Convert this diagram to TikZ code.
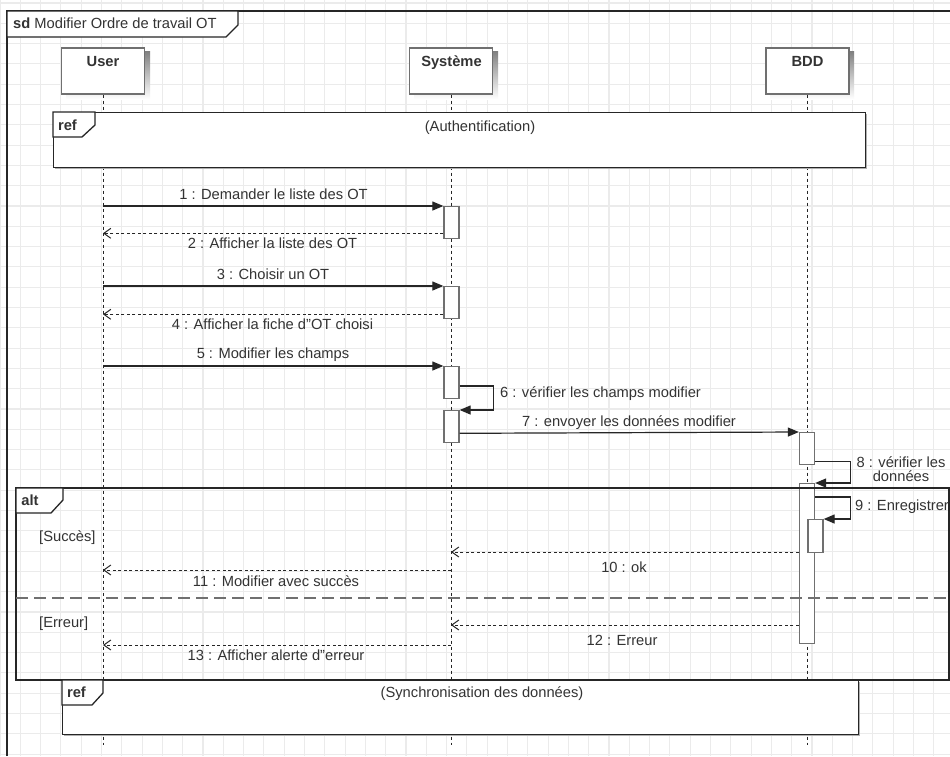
\documentclass[tikz,border=0pt]{standalone}
\usepackage{fontspec}
\setmainfont{Liberation Sans}
\usetikzlibrary{arrows.meta,calc}
\definecolor{gridc}{HTML}{EBEBEB}
\definecolor{txt}{HTML}{333333}
\definecolor{ln}{HTML}{262626}
\definecolor{boxln}{HTML}{707070}
\definecolor{shade}{HTML}{F1F1F1}
\definecolor{shaderef}{HTML}{B0B0B0}
\begin{document}
\begin{tikzpicture}[x=1pt,y=-1pt,
  font=\fontsize{14.7}{17}\selectfont, text=txt,
  lifebox/.style={draw=boxln, line width=1.5pt, fill=white, minimum width=83pt, minimum height=46pt, inner sep=0pt, anchor=north},
  act/.style={draw=boxln, line width=1.3pt, fill=white, minimum width=15pt, inner sep=0pt, anchor=north},
  refbox/.style={draw=ln, line width=1.3pt, fill=white, inner sep=0pt, anchor=north west},
  life/.style={draw=ln, line width=1pt, dash pattern=on 3pt off 3pt},
  msg/.style={draw=ln, line width=1.2pt, -{Triangle[length=11pt,width=9pt]}},
  ret/.style={draw=ln, line width=1pt, dash pattern=on 3pt off 2.5pt, -{Straight Barb[length=7pt,width=10pt,line width=1pt]}},
  lbl/.style={inner sep=0pt, anchor=base},
  lbll/.style={inner sep=0pt, anchor=base west},
  bold/.style={font=\fontsize{14.7}{17}\selectfont\bfseries},
  tab/.style={draw=ln, line width=1.3pt, fill=white, line join=miter},
  frameln/.style={draw=ln, line width=1.3pt}
]
\useasboundingbox (0,0) rectangle (950,756);
\fill[white] (0,0) rectangle (950,756);
% grid
\foreach \i in {0,...,46} \draw[gridc, line width=1.1pt] (\i*20.3,0) -- (\i*20.3,756);
\foreach \j in {0,...,37} \draw[gridc, line width=1.1pt] (0,3+\j*20.3) -- (950,3+\j*20.3);

% sd frame
\draw[frameln] (7,756) -- (7,11) -- (950,11);
\draw[tab] (7,11) -- (238,11) -- (238,25) -- (226,37) -- (7,37) -- cycle;
\node[lbll] at (13,28.5) {\textbf{sd}\ Modifier Ordre de travail OT};

% lifeline heads (soft shadows first)
\fill[shade] (66,51) rectangle (150,99);
\fill[shade] (414,51) rectangle (498,99);
\fill[shade] (770,51) rectangle (854,99);
\node[lifebox] (user) at (103,47) {};
\node[lifebox] (sys) at (451,47) {};
\node[lifebox] (bdd) at (807.5,47) {};
\node[lbl, bold] at (103,66.5) {User};
\node[lbl, bold] at (451.5,66.5) {Système};
\node[lbl, bold] at (807.5,66.5) {BDD};

% lifelines
\draw[life] (user.south) -- (user.south |- 0,745);
\draw[life] (sys.south) -- (sys.south |- 0,745);
\draw[life] (bdd.south) -- (bdd.south |- 0,745);

% ref Authentification
\fill[shaderef] (55,114) rectangle (867,169);
\node[refbox, minimum width=812pt, minimum height=55pt] (ref1) at (53,112) {};
\draw[tab] (53,112) -- (95,112) -- (95,125) -- (82,137) -- (53,137) -- cycle;
\node[lbl, bold] at (67.5,130) {ref};
\node[lbl] at (480,131) {(Authentification)};

% activations
\node[act, minimum height=32pt] (a1) at (451.5,206) {};
\node[act, minimum height=32pt] (a2) at (451.5,286) {};
\node[act, minimum height=32pt] (a3) at (451.5,366) {};
\node[act, minimum height=32pt] (a4) at (451.5,410) {};
\node[act, minimum height=32pt] (b1) at (807,432) {};
\node[act, minimum height=160pt] (b2) at (807,483) {};
\node[act, minimum height=33pt] (b3) at (815.5,519) {};

% messages
\draw[msg] (user.south |- a1.north) -- (a1.north west);
\node[lbl] at (273.5,199.5) {1 : Demander le liste des OT};

\coordinate (r2) at ([yshift=6pt]a1.south west);
\draw[ret] (r2) -- (user.south |- r2);
\node[lbl] at (272.5,248) {2 : Afficher la liste des OT};

\draw[msg] (user.south |- a2.north) -- (a2.north west);
\node[lbl] at (273,279) {3 : Choisir un OT};

\coordinate (r4) at ([yshift=5pt]a2.south west);
\draw[ret] (r4) -- (user.south |- r4);
\node[lbl] at (272.5,329) {4 : Afficher la fiche d"OT choisi};

\draw[msg] (user.south |- a3.north) -- (a3.north west);
\node[lbl] at (273,358.5) {5 : Modifier les champs};

\draw[msg] ([yshift=-20pt]a3.north east) -- ++(34,0) |- (a4.north east);
\node[lbll] at (500,397.5) {6 : vérifier les champs modifier};

\draw[msg] ([yshift=10pt]a4.south east) -- (b1.north west);
\node[lbl] at (629,426) {7 : envoyer les données modifier};

\draw[msg] ([yshift=4pt]b1.south east) -- ++(35,0) |- (b2.north east);
\node[lbl] at (901,467.5) {8 : vérifier les};
\node[lbl] at (901,481) {données};

% alt fragment
\draw[frameln] (16,488) rectangle (949,680);
\draw[tab] (16,488) -- (63,488) -- (63,500) -- (51,513) -- (16,513) -- cycle;
\node[lbl, bold] at (30,505) {alt};
\draw[draw=boxln, line width=1.6pt, dash pattern=on 12pt off 6pt] (16,598) -- (949,598);
\node[lbll] at (39,541.5) {[Succès]};
\node[lbll] at (39,627) {[Erreur]};

\draw[msg] ([yshift=-14pt]b2.north east) -- ++(35,0) |- (b3.north east);
\node[lbll] at (855,510.5) {9 : Enregistrer};

\coordinate (r10) at ([yshift=-69pt]b2.north west);
\draw[ret] (r10) -- (sys.south |- r10);
\node[lbl] at (624,572.5) {10 : ok};

\draw[ret] (sys.south |- 0,570) -- (user.south |- 0,570);
\node[lbl] at (276,586.5) {11 : Modifier avec succès};

\coordinate (r12) at ([yshift=-142pt]b2.north west);
\draw[ret] (r12) -- (sys.south |- r12);
\node[lbl] at (622,645) {12 : Erreur};

\draw[ret] (sys.south |- 0,645) -- (user.south |- 0,645);
\node[lbl] at (276,660) {13 : Afficher alerte d"erreur};

% ref Synchronisation
\fill[shaderef] (64,682) rectangle (860,736);
\node[refbox, minimum width=796pt, minimum height=54pt] (ref2) at (62,680) {};
\draw[tab] (62,680) -- (103,680) -- (103,693) -- (92,705) -- (62,705) -- cycle;
\node[lbl, bold] at (76.5,697) {ref};
\node[lbl] at (482,697) {(Synchronisation des données)};
\end{tikzpicture}
\end{document}
